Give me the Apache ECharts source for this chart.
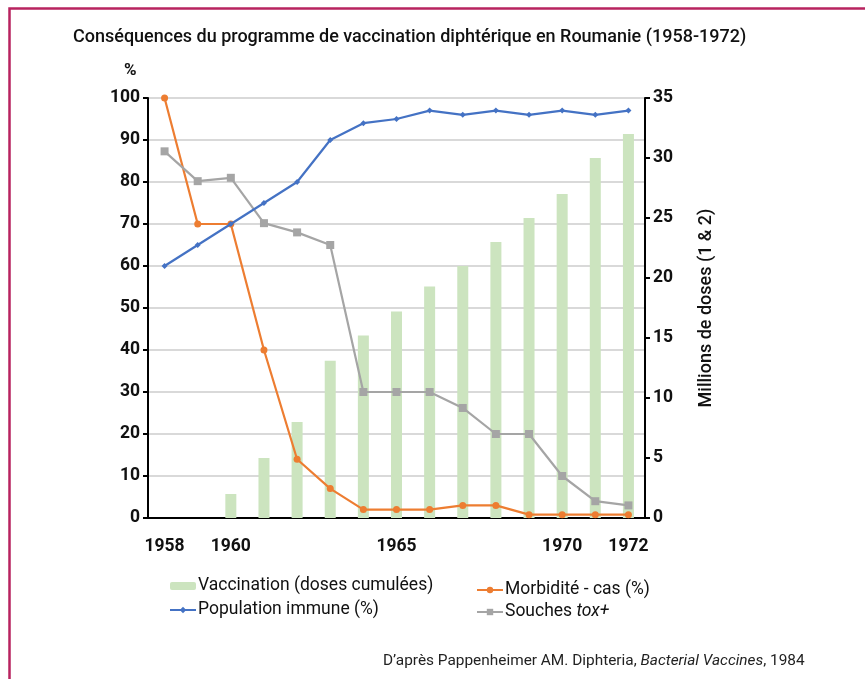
<!DOCTYPE html>
<html>
<head>
<meta charset="utf-8">
<script src="https://cdn.jsdelivr.net/npm/echarts@6/dist/echarts.min.js"></script>
<style>
html,body{margin:0;padding:0;background:#fff;}
#chart{width:865px;height:679px;}
</style>
</head>
<body>
<div id="chart"></div>
<script>
const years = ['1958','1959','1960','1961','1962','1963','1964','1965','1966','1967','1968','1969','1970','1971','1972'];
const shownYears = ['1958','1960','1965','1970','1972'];
const vaccination = [0, 0, 2, 5, 8, 13.1, 15.2, 17.2, 19.3, 21, 23, 25, 27, 30, 32];
const populationImmune = [60, 65, 70, 75, 80, 90, 94, 95, 97, 96, 97, 96, 97, 96, 97];
const morbidite = [100, 70, 70, 40, 14, 7, 2, 2, 2, 3, 3, 0.8, 0.8, 0.8, 0.8];
const souchesTox = [87.3, 80.2, 81, 70.2, 68, 65, 30, 30, 30, 26.2, 20, 20, 10, 4, 3];
const leftTicks = {min: 0, max: 100, interval: 10};
const rightTicks = {min: 0, max: 35, interval: 5};

const FONT = 'Roboto';
const chart = echarts.init(document.getElementById('chart'), null, {renderer: 'canvas'});

const axisLabelStyle = {color: '#111', fontFamily: FONT, fontSize: 17.5, fontWeight: 'bold'};

chart.setOption({
  animation: false,
  backgroundColor: '#fff',
  textStyle: {fontFamily: FONT},
  title: [
    {
      text: 'Conséquences du programme de vaccination diphtérique en Roumanie (1958-1972)',
      left: 68, top: 23,
      textStyle: {fontFamily: FONT, fontSize: 18, fontWeight: 500, color: '#111'}
    },
    {
      text: 'D’après Pappenheimer AM. Diphteria, {i|Bacterial Vaccines}, 1984',
      left: 378, top: 649,
      textStyle: {
        fontFamily: FONT, fontSize: 15.4, fontWeight: 'normal', color: '#222',
        rich: {i: {fontFamily: FONT, fontSize: 15.4, fontStyle: 'italic', color: '#222'}}
      }
    }
  ],
  graphic: [
    {
      type: 'rect', silent: true, z: 100,
      shape: {x: 9.5, y: 8.5, width: 1000, height: 1000},
      style: {fill: 'none', stroke: '#b8235f', lineWidth: 2.5}
    },
    {
      type: 'text', left: 124, top: 62,
      style: {text: '%', fontFamily: FONT, fontSize: 17, fontWeight: 'bold', fill: '#111'}
    }
  ],
  grid: {left: 148, right: 220, top: 98, bottom: 161, containLabel: false},
  legend: [
    {
      orient: 'vertical', left: 164, top: 572, itemGap: 6,
      itemWidth: 26, itemHeight: 8,
      data: ['Vaccination (doses cumulées)', 'Population immune (%)'],
      textStyle: {fontFamily: FONT, fontSize: 17.5, color: '#111', padding: [0, 0, 0, -3]}
    },
    {
      orient: 'vertical', left: 471, top: 576, itemGap: 4,
      itemWidth: 26, itemHeight: 8,
      data: ['Morbidité - cas (%)', 'Souches tox+'],
      formatter: function (n) { return n === 'Souches tox+' ? 'Souches {i|tox+}' : n; },
      textStyle: {
        fontFamily: FONT, fontSize: 17.5, color: '#111', padding: [0, 0, 0, -3],
        rich: {i: {fontFamily: FONT, fontSize: 17.5, fontStyle: 'italic', color: '#111'}}
      }
    }
  ],
  xAxis: {
    type: 'category',
    data: years,
    boundaryGap: true,
    axisLine: {lineStyle: {color: '#000', width: 2}},
    axisTick: {show: false},
    axisLabel: Object.assign({
      margin: 20,
      interval: function (i, v) { return shownYears.indexOf(v) >= 0; }
    }, axisLabelStyle),
    splitLine: {show: false}
  },
  yAxis: [
    {
      type: 'value',
      min: leftTicks.min, max: leftTicks.max, interval: leftTicks.interval,
      axisLine: {show: true, lineStyle: {color: '#000', width: 2}},
      axisTick: {show: true, length: 5, lineStyle: {color: '#000', width: 2}},
      axisLabel: Object.assign({margin: 8}, axisLabelStyle),
      splitLine: {show: true, lineStyle: {color: '#d9d9d9', width: 2}}
    },
    {
      type: 'value', position: 'right',
      min: rightTicks.min, max: rightTicks.max, interval: rightTicks.interval,
      name: 'Millions de doses (1 & 2)',
      nameLocation: 'middle', nameGap: 52, nameRotate: 90,
      nameTextStyle: {fontFamily: FONT, fontSize: 18, fontWeight: 500, color: '#111'},
      axisLine: {show: true, lineStyle: {color: '#000', width: 2}},
      axisTick: {show: true, length: 5, lineStyle: {color: '#000', width: 2}},
      axisLabel: Object.assign({margin: 8}, axisLabelStyle),
      splitLine: {show: false}
    }
  ],
  series: [
    {
      name: 'Vaccination (doses cumulées)',
      type: 'bar', yAxisIndex: 1,
      data: vaccination,
      barWidth: 11,
      itemStyle: {color: '#cce4bf'},
      z: 1
    },
    {
      name: 'Morbidité - cas (%)',
      type: 'line', yAxisIndex: 0,
      data: morbidite,
      symbol: 'circle', symbolSize: 7,
      lineStyle: {color: '#ed7d31', width: 2.2},
      itemStyle: {color: '#ed7d31'},
      z: 3
    },
    {
      name: 'Population immune (%)',
      type: 'line', yAxisIndex: 0,
      data: populationImmune,
      symbol: 'diamond', symbolSize: 6,
      lineStyle: {color: '#4472c4', width: 2.2},
      itemStyle: {color: '#4472c4'},
      z: 4
    },
    {
      name: 'Souches tox+',
      type: 'line', yAxisIndex: 0,
      data: souchesTox,
      symbol: 'rect', symbolSize: 8,
      lineStyle: {color: '#a5a5a5', width: 2.2},
      itemStyle: {color: '#a5a5a5'},
      z: 3
    }
  ]
});
</script>
</body>
</html>
